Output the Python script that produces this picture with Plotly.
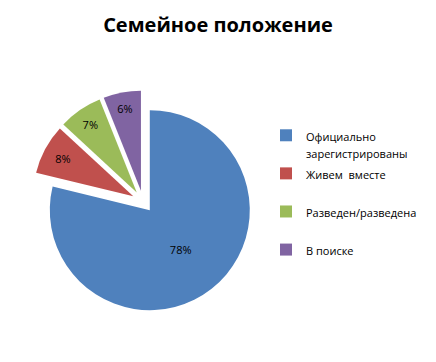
import plotly.graph_objects as go

labels = ["Официально<br>зарегистрированы", "Живем\u00a0\u00a0вместе<br> ", "Разведен/разведена<br> ", "В поиске<br> "]
values = [78, 8, 7, 6]
colors = ["#4F81BD", "#C0504D", "#9BBB59", "#8064A2"]
pulls = [0.11, 0.11, 0.11, 0.11]

W, H = 436, 362
cx, cy, R = 143, 201.5, 111

legend_labels = ["<span style='font-size:11px'>" + l.replace("<br>", "</span><br><span style='font-size:11px'>") + "</span>" for l in labels]

fig = go.Figure(go.Pie(
    labels=legend_labels,
    values=values,
    sort=False,
    direction="clockwise",
    rotation=0,
    pull=pulls,
    marker=dict(colors=colors, line=dict(width=0)),
    texttemplate="%{value}%",
    textposition="inside",
    insidetextorientation="horizontal",
    textfont=dict(family="Open Sans", size=11, color="#000000"),
    hoverinfo="label+percent",
    domain=dict(x=[(cx - R) / W, (cx + R) / W], y=[(H - cy - R) / H, (H - cy + R) / H]),
))

fig.update_layout(
    width=W, height=H,
    margin=dict(l=0, r=0, t=0, b=0),
    paper_bgcolor="white",
    title=dict(text="<b>Семейное положение</b>", x=0.5, xanchor="center", y=1 - 25 / H, yanchor="middle",
               font=dict(family="Open Sans", size=20, color="#000000")),
    legend=dict(x=266 / W, xanchor="left", y=1 - 120 / H, yanchor="top", valign="top",
                font=dict(family="Open Sans", size=13.5, color="#000000"),
                tracegroupgap=0, bgcolor="rgba(0,0,0,0)"),
    showlegend=True,
)

fig.write_html("out.html")
